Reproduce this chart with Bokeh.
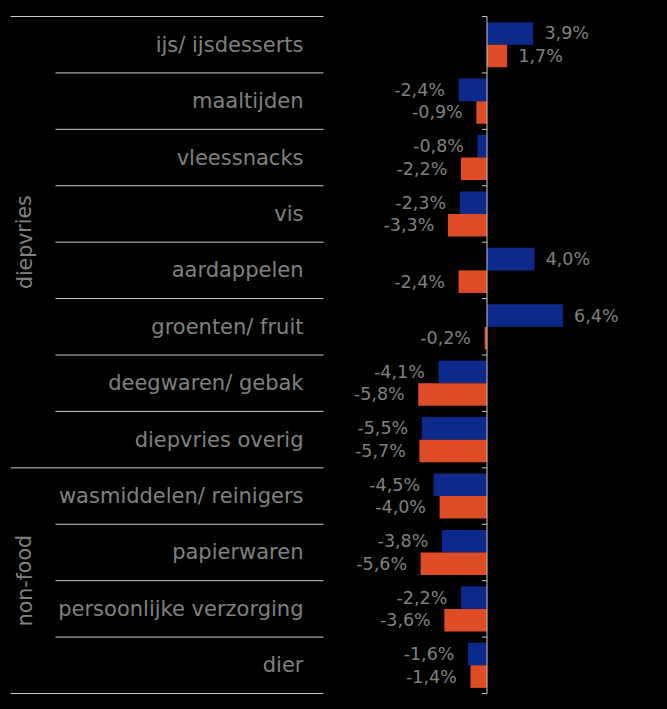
from bokeh.plotting import figure
from bokeh.embed import file_html
from bokeh.resources import INLINE
from bokeh.models import ColumnDataSource
from bokeh.core.properties import value

categories = ["ijs/ ijsdesserts", "maaltijden", "vleessnacks", "vis", "aardappelen",
              "groenten/ fruit", "deegwaren/ gebak", "diepvries overig",
              "wasmiddelen/ reinigers", "papierwaren", "persoonlijke verzorging", "dier"]
groups = ["diepvries", "non-food"]
group_sizes = [8, 4]
blue_values = [3.9, -2.4, -0.8, -2.3, 4.0, 6.4, -4.1, -5.5, -4.5, -3.8, -2.2, -1.6]
orange_values = [1.7, -0.9, -2.2, -3.3, -2.4, -0.2, -5.8, -5.7, -4.0, -5.6, -3.6, -1.4]

BLUE = "#0b2a8c"
ORANGE = "#de4c27"
GREY = "#808080"
LINE = "#c8c8c8"
FONT = "DejaVu Sans"

W, H = 667, 709
n = len(categories)
PXU = 11.85                      # pixels per percent
zero_px = 486.5
x0 = -zero_px / PXU
x1 = (W - zero_px) / PXU
top_px, bot_px = 16, 693
cat_px = (bot_px - top_px) / n
y1 = n + top_px / cat_px
y0 = -(H - bot_px) / cat_px

def px(xp):
    return x0 + xp / PXU

p = figure(width=W, height=H, x_range=(x0, x1), y_range=(y0, y1),
           output_backend="svg", toolbar_location=None, min_border=0)
p.background_fill_color = "black"
p.border_fill_color = "black"
p.outline_line_color = None
p.xgrid.visible = False
p.ygrid.visible = False
p.xaxis.visible = False
p.yaxis.visible = False

centers = [n - i - 0.5 for i in range(n)]
fmt = lambda v: f"{v:.1f}".replace(".", ",") + "%"

src_b = ColumnDataSource(dict(y=[c + 0.2 for c in centers], v=blue_values))
src_o = ColumnDataSource(dict(y=[c - 0.2 for c in centers], v=orange_values))
p.hbar(y="y", left=0, right="v", height=0.4, source=src_b, fill_color=BLUE, line_color=None)
p.hbar(y="y", left=0, right="v", height=0.4, source=src_o, fill_color=ORANGE, line_color=None)

# value labels
for vals, off in ((blue_values, 0.2), (orange_values, -0.2)):
    pos = [(v + 0.95, c + off, fmt(v)) for v, c in zip(vals, centers) if v >= 0]
    neg = [(v - 1.15, c + off, fmt(v)) for v, c in zip(vals, centers) if v < 0]
    for items, align in ((pos, "left"), (neg, "right")):
        if items:
            p.text(x=[a[0] for a in items], y=[a[1] for a in items], text=[a[2] for a in items],
                   text_align=align, text_baseline="middle", text_color=GREY,
                   text_font=value(FONT), text_font_size="17.5px")

# zero axis with ticks
p.segment(x0=[0], y0=[0], x1=[0], y1=[n], line_color=LINE, line_width=1)
p.segment(x0=[-5 / PXU] * (n + 1), y0=list(range(n + 1)), x1=[0] * (n + 1), y1=list(range(n + 1)),
          line_color=LINE, line_width=1)

# category labels
p.text(x=[px(303)] * n, y=centers, text=categories, text_align="right", text_baseline="middle",
       text_color=GREY, text_font=value(FONT), text_font_size="21px")

# separator lines
bounds = [0]
for s in group_sizes:
    bounds.append(bounds[-1] + s)
group_edges = [n - b for b in bounds]
inner = [k for k in range(n + 1) if k not in group_edges]
p.segment(x0=[px(55)] * len(inner), y0=inner, x1=[px(323)] * len(inner), y1=inner,
          line_color=LINE, line_width=1)
p.segment(x0=[px(10)] * len(group_edges), y0=group_edges, x1=[px(323)] * len(group_edges),
          y1=group_edges, line_color=LINE, line_width=1)

# group labels
gy = [(group_edges[i] + group_edges[i + 1]) / 2 for i in range(len(groups))]
p.text(x=[px(24)] * len(groups), y=gy, text=groups, angle=1.5708, text_align="center",
       text_baseline="middle", text_color=GREY, text_font=value(FONT), text_font_size="20.5px")

html = file_html(p, INLINE)
html = html.replace("<head>", "<head><style>html,body{background:#000;}</style>", 1)
open("out.html", "w").write(html)
